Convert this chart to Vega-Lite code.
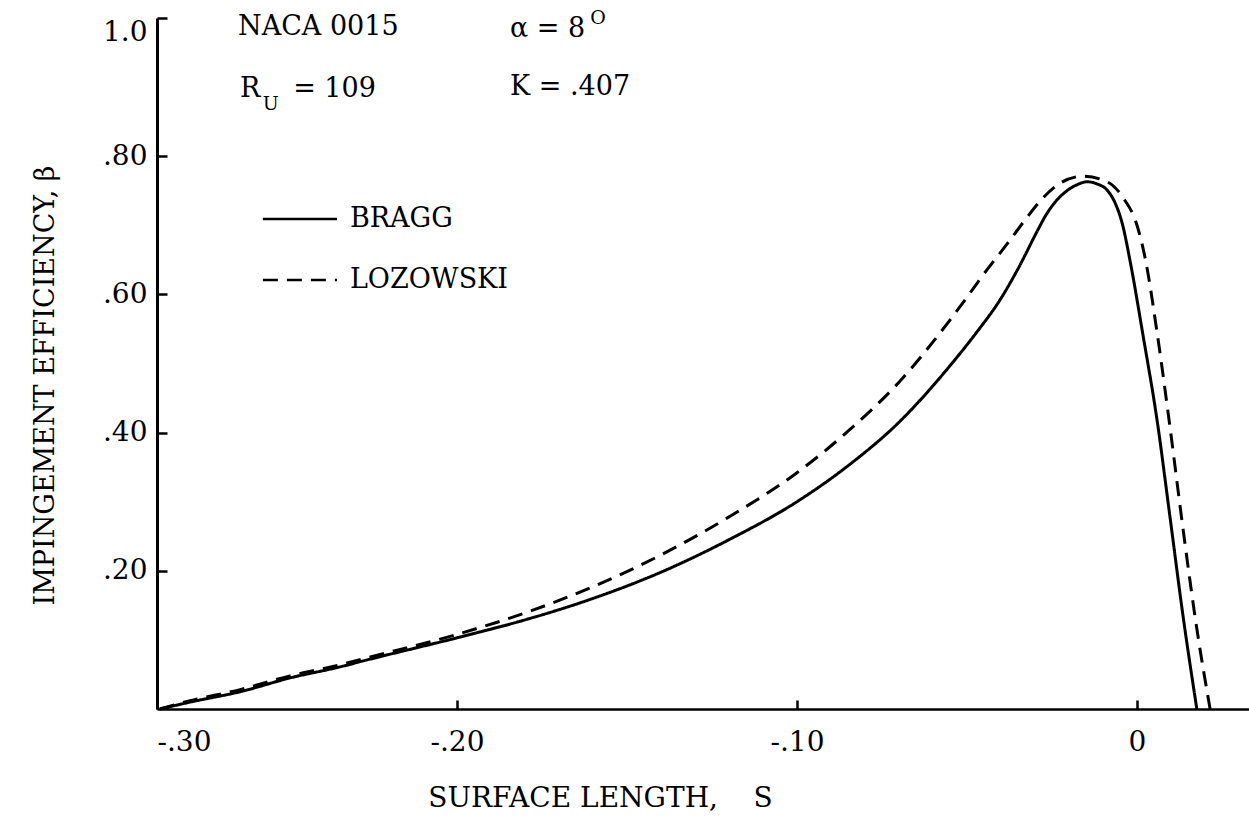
{
  "$schema": "https://vega.github.io/schema/vega-lite/v6.json",
  "width": 1092,
  "height": 691,
  "autosize": {"type": "none"},
  "padding": {"left": 157, "top": 18, "right": 0, "bottom": 111},
  "background": "white",
  "config": {
    "view": {"stroke": null},
    "font": "DejaVu Serif",
    "axis": {"grid": false, "domainColor": "black", "tickColor": "black", "labelColor": "black", "titleColor": "black", "labelFont": "DejaVu Serif", "titleFont": "DejaVu Serif", "titleFontWeight": "normal"}
  },
  "datasets": {
    "curves": [
      {"series": "BRAGG", "s": -0.2874, "beta": 0.0},
      {"series": "BRAGG", "s": -0.2785, "beta": 0.010},
      {"series": "BRAGG", "s": -0.2638, "beta": 0.025},
      {"series": "BRAGG", "s": -0.2491, "beta": 0.045},
      {"series": "BRAGG", "s": -0.2344, "beta": 0.061},
      {"series": "BRAGG", "s": -0.2265, "beta": 0.071},
      {"series": "BRAGG", "s": -0.20, "beta": 0.103},
      {"series": "BRAGG", "s": -0.18, "beta": 0.129},
      {"series": "BRAGG", "s": -0.16, "beta": 0.160},
      {"series": "BRAGG", "s": -0.14, "beta": 0.198},
      {"series": "BRAGG", "s": -0.12, "beta": 0.245},
      {"series": "BRAGG", "s": -0.10, "beta": 0.300},
      {"series": "BRAGG", "s": -0.085, "beta": 0.352},
      {"series": "BRAGG", "s": -0.07, "beta": 0.415},
      {"series": "BRAGG", "s": -0.0553, "beta": 0.495},
      {"series": "BRAGG", "s": -0.0475, "beta": 0.543},
      {"series": "BRAGG", "s": -0.0403, "beta": 0.592},
      {"series": "BRAGG", "s": -0.035, "beta": 0.637},
      {"series": "BRAGG", "s": -0.0294, "beta": 0.691},
      {"series": "BRAGG", "s": -0.027, "beta": 0.713},
      {"series": "BRAGG", "s": -0.0245, "beta": 0.731},
      {"series": "BRAGG", "s": -0.0206, "beta": 0.750},
      {"series": "BRAGG", "s": -0.0175, "beta": 0.759},
      {"series": "BRAGG", "s": -0.0147, "beta": 0.763},
      {"series": "BRAGG", "s": -0.0118, "beta": 0.760},
      {"series": "BRAGG", "s": -0.0088, "beta": 0.751},
      {"series": "BRAGG", "s": -0.0065, "beta": 0.733},
      {"series": "BRAGG", "s": -0.0042, "beta": 0.700},
      {"series": "BRAGG", "s": -0.0021, "beta": 0.650},
      {"series": "BRAGG", "s": 0.0018, "beta": 0.540},
      {"series": "BRAGG", "s": 0.0059, "beta": 0.418},
      {"series": "BRAGG", "s": 0.0097, "beta": 0.278},
      {"series": "BRAGG", "s": 0.0135, "beta": 0.136},
      {"series": "BRAGG", "s": 0.0176, "beta": 0.0},
      {"series": "LOZOWSKI", "s": -0.2874, "beta": 0.0},
      {"series": "LOZOWSKI", "s": -0.2785, "beta": 0.012},
      {"series": "LOZOWSKI", "s": -0.2638, "beta": 0.028},
      {"series": "LOZOWSKI", "s": -0.2491, "beta": 0.048},
      {"series": "LOZOWSKI", "s": -0.2344, "beta": 0.064},
      {"series": "LOZOWSKI", "s": -0.2265, "beta": 0.074},
      {"series": "LOZOWSKI", "s": -0.20, "beta": 0.108},
      {"series": "LOZOWSKI", "s": -0.18, "beta": 0.139},
      {"series": "LOZOWSKI", "s": -0.16, "beta": 0.177},
      {"series": "LOZOWSKI", "s": -0.14, "beta": 0.223},
      {"series": "LOZOWSKI", "s": -0.12, "beta": 0.278},
      {"series": "LOZOWSKI", "s": -0.10, "beta": 0.342},
      {"series": "LOZOWSKI", "s": -0.085, "beta": 0.402},
      {"series": "LOZOWSKI", "s": -0.07, "beta": 0.473},
      {"series": "LOZOWSKI", "s": -0.0553, "beta": 0.561},
      {"series": "LOZOWSKI", "s": -0.050, "beta": 0.596},
      {"series": "LOZOWSKI", "s": -0.0453, "beta": 0.628},
      {"series": "LOZOWSKI", "s": -0.0382, "beta": 0.673},
      {"series": "LOZOWSKI", "s": -0.0335, "beta": 0.704},
      {"series": "LOZOWSKI", "s": -0.0285, "beta": 0.735},
      {"series": "LOZOWSKI", "s": -0.0226, "beta": 0.761},
      {"series": "LOZOWSKI", "s": -0.0159, "beta": 0.771},
      {"series": "LOZOWSKI", "s": -0.0088, "beta": 0.763},
      {"series": "LOZOWSKI", "s": -0.0041, "beta": 0.740},
      {"series": "LOZOWSKI", "s": 0.0, "beta": 0.700},
      {"series": "LOZOWSKI", "s": 0.0025, "beta": 0.650},
      {"series": "LOZOWSKI", "s": 0.0059, "beta": 0.545},
      {"series": "LOZOWSKI", "s": 0.0097, "beta": 0.408},
      {"series": "LOZOWSKI", "s": 0.0135, "beta": 0.262},
      {"series": "LOZOWSKI", "s": 0.0176, "beta": 0.116},
      {"series": "LOZOWSKI", "s": 0.0215, "beta": 0.0}
    ],
    "legend": [
      {"series": "BRAGG", "s1": -0.2571, "s2": -0.2353, "st": -0.2315, "beta": 0.709},
      {"series": "LOZOWSKI", "s1": -0.2571, "s2": -0.2353, "st": -0.2315, "beta": 0.621}
    ],
    "notes": [
      {"label": "NACA 0015", "s": -0.2644, "beta": 0.987},
      {"label": "R", "s": -0.2638, "beta": 0.897},
      {"label": "= 109", "s": -0.2482, "beta": 0.897},
      {"label": "α = 8", "s": -0.1844, "beta": 0.984},
      {"label": "K = .407", "s": -0.1844, "beta": 0.900}
    ],
    "scripts": [
      {"label": "U", "s": -0.2571, "beta": 0.875},
      {"label": "O", "s": -0.1608, "beta": 1.0}
    ]
  },
  "layer": [
    {
      "data": {"name": "curves"},
      "mark": {"type": "line", "color": "black", "strokeWidth": 3, "interpolate": "monotone"},
      "encoding": {
        "x": {"field": "s", "type": "quantitative", "scale": {"domain": [-0.28824, 0.03294], "nice": false, "zero": false},
          "axis": {"values": [-0.28824, -0.2, -0.1, 0], "labelExpr": "datum.value < -0.25 ? '-.30' : datum.value < -0.15 ? '-.20' : datum.value < -0.05 ? '-.10' : '0'",
            "domainWidth": 2.5, "tickWidth": 2.5, "tickSize": -9, "labelPadding": 28, "labelFontSize": 28, "labelFlush": true,
            "title": "SURFACE LENGTH,\u00a0\u00a0\u00a0 S", "titleFontSize": 28, "titleX": 443, "titleY": 89, "titleBaseline": "middle", "titleAlign": "center"}},
        "y": {"field": "beta", "type": "quantitative", "scale": {"domain": [0, 1], "nice": false, "zero": true},
          "axis": {"values": [0.2, 0.4, 0.6, 0.8, 1.0], "labelExpr": "datum.value > 0.9 ? '1.0' : datum.value > 0.7 ? '.80' : datum.value > 0.5 ? '.60' : datum.value > 0.3 ? '.40' : '.20'",
            "domainWidth": 3, "tickWidth": 2.5, "tickSize": -10, "labelPadding": 20, "labelFontSize": 28, "labelFlush": true,
            "title": "IMPINGEMENT EFFICIENCY, β", "titleFontSize": 27, "titleX": -112, "titleY": 367, "titleAngle": 270, "titleBaseline": "middle", "titleAlign": "center"}},
        "strokeDash": {"field": "series", "type": "nominal", "scale": {"domain": ["BRAGG", "LOZOWSKI"], "range": [[1, 0], [15, 9]]}, "legend": null},
        "detail": {"field": "series"}
      }
    },
    {
      "data": {"name": "legend"},
      "mark": {"type": "rule", "color": "black", "strokeWidth": 2.5},
      "encoding": {
        "x": {"field": "s1", "type": "quantitative"},
        "x2": {"field": "s2"},
        "y": {"field": "beta", "type": "quantitative"},
        "strokeDash": {"field": "series", "type": "nominal", "scale": {"domain": ["BRAGG", "LOZOWSKI"], "range": [[1, 0], [14, 16]]}, "legend": null}
      }
    },
    {
      "data": {"name": "legend"},
      "mark": {"type": "text", "color": "black", "font": "DejaVu Serif", "fontSize": 27, "align": "left", "baseline": "middle"},
      "encoding": {
        "x": {"field": "st", "type": "quantitative"},
        "y": {"field": "beta", "type": "quantitative"},
        "text": {"field": "series"}
      }
    },
    {
      "data": {"name": "notes"},
      "mark": {"type": "text", "color": "black", "font": "DejaVu Serif", "fontSize": 27, "align": "left", "baseline": "middle"},
      "encoding": {
        "x": {"field": "s", "type": "quantitative"},
        "y": {"field": "beta", "type": "quantitative"},
        "text": {"field": "label"}
      }
    },
    {
      "data": {"name": "scripts"},
      "mark": {"type": "text", "color": "black", "font": "DejaVu Serif", "fontSize": 19, "align": "left", "baseline": "middle"},
      "encoding": {
        "x": {"field": "s", "type": "quantitative"},
        "y": {"field": "beta", "type": "quantitative"},
        "text": {"field": "label"}
      }
    }
  ]
}
